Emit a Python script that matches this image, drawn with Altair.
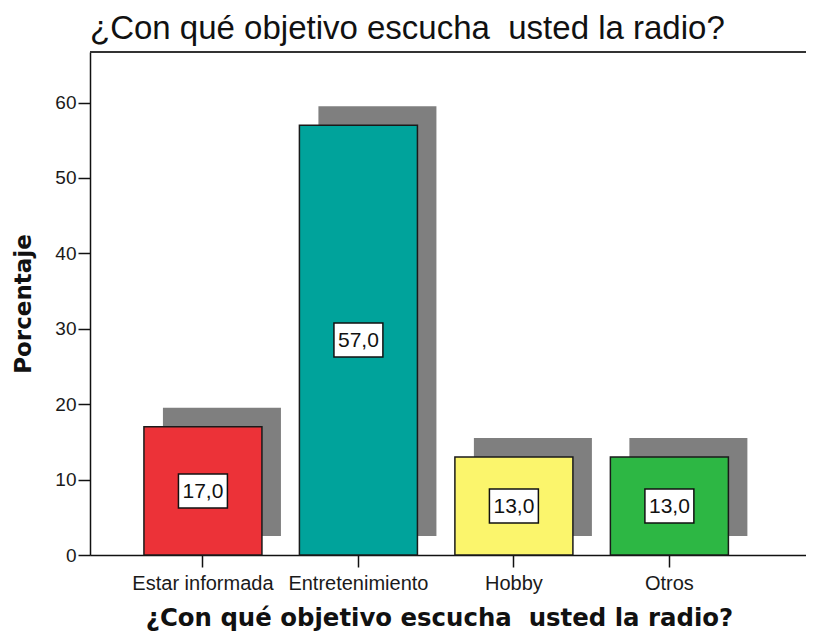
import altair as alt
import pandas as pd

categories = ["Estar informada", "Entretenimiento", "Hobby", "Otros"]
values = [17.0, 57.0, 13.0, 13.0]
bar_colors = ["#EC3238", "#00A39B", "#FBF56C", "#2DB744"]

title_text = "¿Con qué objetivo escucha\u00a0 usted la radio?"

df = pd.DataFrame({"cat": categories, "value": values})

W, H = 716, 503

xscale = alt.Scale(paddingInner=0.241, paddingOuter=0.423, align=0.41)
yscale = alt.Scale(domain=[0, 66.7], nice=False)

x_enc = alt.X(
    "cat:N",
    sort=categories,
    scale=xscale,
    title=title_text,
    axis=alt.Axis(
        labelAngle=0,
        labelFontSize=20,
        labelFont="Liberation Sans",
        labelColor="#1a1a1a",
        labelPadding=6,
        tickSize=12,
        tickColor="#111111",
        tickWidth=1.5,
        domainColor="#111111",
        domainWidth=1.5,
        titleFont="DejaVu Sans",
        titleFontSize=24.4,
        titleFontWeight="bold",
        titleColor="#111111",
        titlePadding=13,
        titleX=349,
        titleAlign="center",
    ),
)

y_enc = alt.Y(
    "value:Q",
    scale=yscale,
    title="Porcentaje",
    axis=alt.Axis(
        values=[0, 10, 20, 30, 40, 50, 60],
        grid=False,
        labelFontSize=19,
        labelFont="Liberation Sans",
        labelColor="#1a1a1a",
        labelPadding=2,
        tickSize=12,
        tickColor="#111111",
        tickWidth=1.5,
        domainColor="#111111",
        domainWidth=1.5,
        titleFont="DejaVu Sans",
        titleFontSize=23,
        titleFontWeight="bold",
        titleColor="#111111",
        titlePadding=19,
    ),
)

base = alt.Chart(df)

shadow = base.mark_bar(color="#7F7F7F", xOffset=19, yOffset=-19).encode(
    x=x_enc, y=y_enc
)

bars = base.mark_bar(stroke="#1a1a1a", strokeWidth=1.5).encode(
    x=x_enc,
    y=y_enc,
    color=alt.Color(
        "cat:N",
        scale=alt.Scale(domain=categories, range=bar_colors),
        legend=None,
    ),
)

labeled = base.transform_calculate(
    mid="datum.value / 2",
    label="replace(format(datum.value, '.1f'), '.', ',')",
)

boxes = labeled.mark_point(
    shape="M-1.44,-1H1.44V1H-1.44Z",
    size=1156,
    filled=True,
    fill="white",
    stroke="#111111",
    strokeWidth=1.5,
    opacity=1,
).encode(x=alt.X("cat:N", sort=categories, scale=xscale), y=alt.Y("mid:Q", scale=yscale))

texts = labeled.mark_text(
    font="Liberation Sans", fontSize=21, color="#111111", baseline="middle", dy=1
).encode(
    x=alt.X("cat:N", sort=categories, scale=xscale),
    y=alt.Y("mid:Q", scale=yscale),
    text="label:N",
)

top_rule = base.mark_rule(color="#333333", strokeWidth=1.5).encode(
    x=alt.value(0), x2=alt.value(W), y=alt.value(0)
)

chart = (
    alt.layer(shadow, bars, boxes, texts, top_rule)
    .properties(
        width=W,
        height=H,
        autosize=alt.AutoSizeParams(type="none"),
        padding={"left": 82, "top": 44, "right": 0, "bottom": 79},
        title=alt.TitleParams(
            text=title_text,
            anchor="start",
            frame="group",
            font="Liberation Sans",
            fontSize=33,
            fontWeight="normal",
            color="#111111",
            offset=5,
        ),
    )
    .configure_view(fill="#F0F0F0", stroke="transparent")
    .configure(background="white")
)

chart.save("out.html", embed_options={"renderer": "svg", "actions": False})
